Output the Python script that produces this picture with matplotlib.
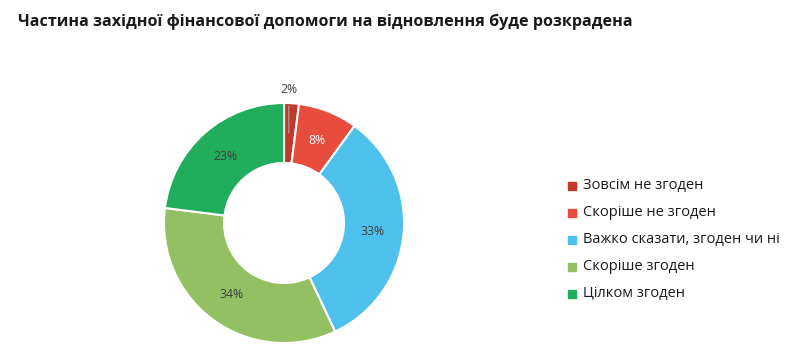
import matplotlib
matplotlib.use("Agg")
import matplotlib.pyplot as plt
import numpy as np

title = "Частина західної фінансової допомоги на відновлення буде розкрадена"
categories = ["Зовсім не згоден", "Скоріше не згоден", "Важко сказати, згоден чи ні",
              "Скоріше згоден", "Цілком згоден"]
values = [2, 8, 33, 34, 23]
colors = ["#C0392B", "#E74C3C", "#4DC0EB", "#92C063", "#20AE5C"]
label_colors = ["#404040", "white", "#404040", "#404040", "#404040"]

W, H = 800, 357
fig = plt.figure(figsize=(W / 100, H / 100), dpi=100)
fig.patch.set_facecolor("white")
plt.rcParams['font.family'] = ['Open Sans', 'DejaVu Sans']

cx, cy, R = 284, 223, 120
ax = fig.add_axes([(cx - R) / W, (H - cy - R) / H, 2 * R / W, 2 * R / H])
wedges, _ = ax.pie(values, colors=colors, startangle=90, counterclock=False,
                   radius=1.0, wedgeprops=dict(width=0.5, edgecolor="white", linewidth=1.5))
ax.set_xlim(-1, 1)
ax.set_ylim(-1, 1)
ax.set_aspect("equal")
ax.axis("off")

for w, v, lc in zip(wedges, values, label_colors):
    ang = np.deg2rad((w.theta1 + w.theta2) / 2)
    if v < 5:
        ax.annotate(f"{v}%", xy=(0.04, 0.75),
                    xytext=(0.04, 1.11), ha="center", va="center", fontsize=8.8,
                    color="#404040",
                    arrowprops=dict(arrowstyle="-", color="#A6A6A6", lw=0.8,
                                    shrinkA=5, shrinkB=0),
                    annotation_clip=False)
    else:
        ax.text(0.74 * np.cos(ang), 0.74 * np.sin(ang), f"{v}%", ha="center",
                va="center", fontsize=8.8, color=lc)

fig.text(18 / W, 1 - 22 / H, title, fontsize=11.6, fontweight="bold",
         color="#1a1a1a", ha="left", va="center")

for i, (c, col) in enumerate(zip(categories, colors)):
    y = 186 + 27 * i
    fig.patches.append(plt.Rectangle(((568) / W, 1 - (y + 4) / H), 8 / W, 8 / H,
                                     transform=fig.transFigure, color=col, figure=fig))
    fig.text(583 / W, 1 - y / H, c, fontsize=10.5, color="#1a1a1a", ha="left", va="center")

fig.savefig("out.png", dpi=100)
